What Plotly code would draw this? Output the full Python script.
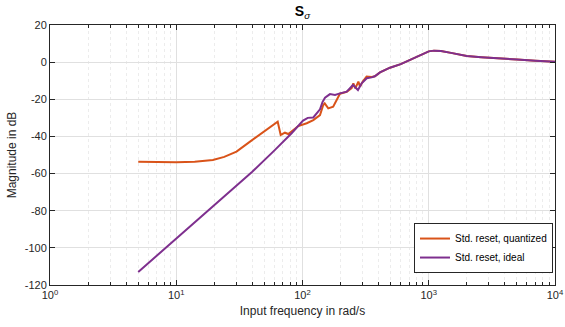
import plotly.graph_objects as go

# ---- data ----
freq_quant = [5, 7, 10, 14, 19.5, 24, 30, 38.4, 50, 63.6, 67.2, 72.6, 77.2, 84.6, 92.6,
              108, 121.8, 137.6, 146, 150, 160, 175, 190, 198, 224, 245, 253, 262, 277,
              286, 300, 322, 353, 374, 411, 493, 600, 750, 900, 1000, 1100, 1250, 1500,
              2000, 2600, 3500, 5000, 7000, 10000]
mag_quant = [-53.6, -53.8, -53.9, -53.6, -52.7, -51.0, -48.2, -42.8, -37.2, -32.1, -39.2,
             -38.0, -38.7, -36.5, -34.4, -32.9, -31.2, -28.5, -23.1, -22.2, -24.9, -24.0,
             -19.5, -17.0, -16.0, -14.0, -11.4, -14.1, -10.5, -13.2, -10.5, -7.8, -8.0,
             -7.6, -5.5, -3.0, -1.1, 1.9, 4.4, 5.8, 6.2, 6.0, 5.0, 3.3, 2.7, 2.0, 1.4,
             0.8, 0.2]

freq_ideal = [5, 10, 20, 40, 60, 82, 101, 110, 121.8, 130, 137.6, 144, 150.7, 165, 181, 198,
              224, 251, 270, 275, 294, 323, 353, 374, 411, 493, 600, 750, 900, 1000, 1100,
              1250, 1500, 2000, 2600, 3500, 5000, 7000, 10000]
mag_ideal = [-113.0, -95.0, -77.0, -59.0, -47.5, -38.3, -31.5, -30.0, -29.8, -27.5, -25.4,
             -21.5, -19.2, -17.2, -17.7, -16.8, -15.9, -12.3, -14.1, -15.0, -11.4, -8.7,
             -8.2, -7.6, -5.5, -3.0, -1.1, 1.9, 4.4, 5.8, 6.2, 6.0, 5.0, 3.3, 2.7, 2.0,
             1.4, 0.8, 0.2]

x_major = [1, 10, 100, 1000, 10000]
x_major_text = ["10<sup>0</sup>", "10<sup>1</sup>", "10<sup>2</sup>", "10<sup>3</sup>", "10<sup>4</sup>"]
y_ticks = [20, 0, -20, -40, -60, -80, -100, -120]
y_tick_text = ["20", "0", "-20", "-40", "-60", "-80", "-100", "-120"]
series_names = ["Std. reset, quantized", "Std. reset, ideal"]

x_minor = [m * 10 ** k for k in range(4) for m in range(2, 10)]

FONT = "Liberation Sans, Arial, Helvetica, sans-serif"
AX = "#262626"

fig = go.Figure()
fig.add_trace(go.Scatter(x=freq_quant, y=mag_quant, mode="lines", name=series_names[0],
                         line=dict(color="#D95319", width=2)))
fig.add_trace(go.Scatter(x=freq_ideal, y=mag_ideal, mode="lines", name=series_names[1],
                         line=dict(color="#7E2F8E", width=2)))

fig.update_layout(
    width=565, height=327,
    margin=dict(l=50, r=10, t=25, b=42),
    paper_bgcolor="white", plot_bgcolor="white",
    font=dict(family=FONT, color=AX, size=11),
    title=dict(text="<b>S</b><sub><i>σ</i></sub>", x=(302.5 / 565), xanchor="center",
               y=1 - 11 / 327, yanchor="middle", font=dict(size=14, color="black")),
    showlegend=True,
    legend=dict(x=0.996, y=0.046, xanchor="right", yanchor="bottom",
                bgcolor="white", bordercolor=AX, borderwidth=1,
                font=dict(size=10, color="black"), tracegroupgap=0,
                itemwidth=30),
)

fig.update_xaxes(
    type="log", range=[0, 4], automargin=False,
    tickmode="array", tickvals=x_major, ticktext=x_major_text,
    ticks="inside", ticklen=5, tickcolor=AX,
    showline=True, linecolor=AX, linewidth=1, mirror="allticks",
    showgrid=True, gridcolor="#e0e0e0", gridwidth=1,
    zeroline=False,
    tickfont=dict(size=11, color=AX),
    title=dict(text="Input frequency in rad/s", font=dict(size=12, color=AX), standoff=6),
    minor=dict(tickmode="array", tickvals=x_minor, ticks="inside", ticklen=3,
               tickcolor=AX, showgrid=True, gridcolor="#ececec", griddash="3px,3px",
               gridwidth=1),
)
fig.update_yaxes(
    range=[-120, 20], automargin=False,
    tickmode="array", tickvals=y_ticks, ticktext=y_tick_text,
    ticks="inside", ticklen=5, tickcolor=AX,
    showline=True, linecolor=AX, linewidth=1, mirror="allticks",
    showgrid=True, gridcolor="#e0e0e0", gridwidth=1,
    zeroline=False,
    tickfont=dict(size=11, color=AX),
    title=dict(text="Magnitude in dB", font=dict(size=12, color=AX), standoff=5),
)

fig.write_html("out.html")
